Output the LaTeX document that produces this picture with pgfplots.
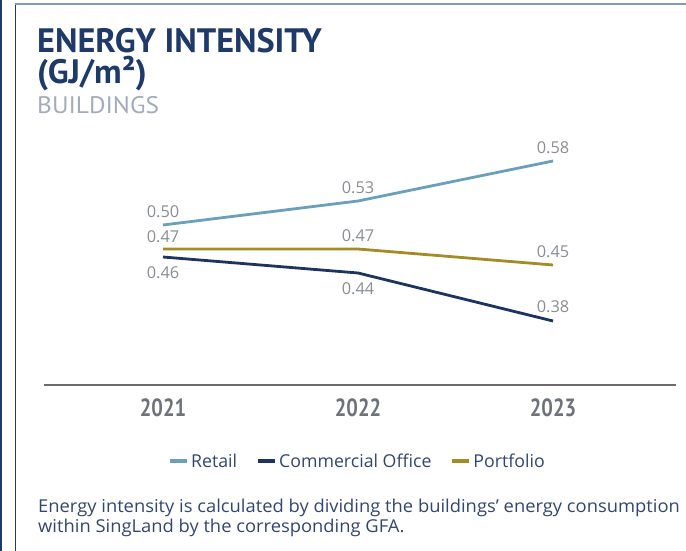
\documentclass[border=0pt]{standalone}
\usepackage{fontspec}
\setmainfont{Open Sans}
\newfontfamily\titlefont{PT Sans}
\usepackage{pgfplots}
\usepackage{pgfplotstable}
\pgfplotsset{compat=1.18}

\definecolor{navy}{HTML}{1F3A68}
\definecolor{retailc}{HTML}{6B9FBA}
\definecolor{officec}{HTML}{1D3461}
\definecolor{portc}{HTML}{A38B28}
\definecolor{lblgrey}{HTML}{8A8D91}
\definecolor{yeargrey}{HTML}{6E737B}
\definecolor{subgrey}{HTML}{A3ABBB}
\definecolor{framec}{HTML}{8A98B0}
\definecolor{txtnavy}{HTML}{34466B}

% x: 0=2021, 1=2022, 2=2023 ; off = label shift in bp
\pgfplotstableread{
x y off
0 0.50 13
1 0.53 13
2 0.58 13
}\retail
\pgfplotstableread{
x y off
0 0.46 -16
1 0.44 -16
2 0.38 14
}\office
\pgfplotstableread{
x y off
0 0.47 12
1 0.47 13
2 0.45 13
}\portfolio

\pgfplotsset{
  vals/.style={
    point meta=y,
    nodes near coords={\pgfmathprintnumber[assume math mode=true,fixed,fixed zerofill,precision=2]{\pgfplotspointmeta}},
    visualization depends on={\thisrow{off} \as \off},
    every node near coord/.append style={anchor=center,yshift=\off*1bp,text=lblgrey,
      font=\fontsize{16.4}{16.4}\selectfont},
  },
}

\begin{document}
\begin{tikzpicture}
\path[use as bounding box] (0bp,0bp) rectangle (686bp,551bp);
% frame
\fill[navy] (0bp,0bp) rectangle (1.6bp,551bp);
\draw[navy,line width=1.3bp] (15.2bp,0bp) -- (15.2bp,547bp);
\draw[framec,line width=1.6bp] (14.6bp,546.7bp) -- (686bp,546.7bp);
% titles
\node[anchor=base west,inner sep=0,text=navy,font=\titlefont\bfseries\fontsize{34}{34}\selectfont]
  at (37bp,498bp) {\scalebox{1.01}[1]{ENERGY INTENSITY}};
\node[anchor=base west,inner sep=0,text=navy,font=\titlefont\bfseries\fontsize{34}{34}\selectfont]
  at (37bp,467bp) {\scalebox{1.01}[1]{(GJ/m²)}};
\node[anchor=base west,inner sep=0,text=subgrey,font=\titlefont\fontsize{24}{24}\selectfont]
  at (37bp,437bp) {\scalebox{1.06}[1]{BUILDINGS}};

\begin{axis}[
  at={(44bp,166bp)},anchor=south west,
  scale only axis,width=632bp,height=256bp,
  xmin=-0.6103,xmax=2.6308,ymin=0.30,ymax=0.62,
  clip=false,
  axis x line=bottom,axis y line=none,
  x axis line style={-,draw=black!58,line width=1.4bp},
  xtick={0,1,2},
  xticklabels={\scalebox{0.82}[1]{2021},\scalebox{0.82}[1]{2022},\scalebox{0.82}[1]{2023}},
  major tick length=0pt,
  xticklabel style={anchor=base,yshift=-32bp,text=yeargrey,
    font=\titlefont\bfseries\fontsize{25}{25}\selectfont},
  ytick=\empty,
  every axis plot/.append style={line width=2.8bp,mark=none},
  legend columns=3,
  legend style={at={(0.496,-0.297)},anchor=center,draw=none,fill=none,
    font=\fontsize{17.8}{17.8}\selectfont,text=txtnavy,
    /tikz/every even column/.append style={column sep=17bp}},
  legend image code/.code={\draw[#1,line width=4bp] (0bp,0bp) -- (17bp,0bp);},
]
\addplot[retailc,vals] table[x=x,y=y] {\retail};
\addlegendentry{Retail}
\addplot[officec,vals] table[x=x,y=y] {\office};
\addlegendentry{Commercial Office}
\addplot[portc,vals] table[x=x,y=y] {\portfolio};
\addlegendentry{Portfolio}
\end{axis}

% note
\node[anchor=base west,inner sep=0,text=txtnavy,font=\fontsize{17.8}{17.8}\selectfont]
  at (38bp,38.5bp) {\scalebox{1.035}[1]{Energy intensity is calculated by dividing the buildings’ energy consumption}};
\node[anchor=base west,inner sep=0,text=txtnavy,font=\fontsize{17.8}{17.8}\selectfont]
  at (38bp,18.5bp) {\scalebox{1.035}[1]{within SingLand by the corresponding GFA.}};
\end{tikzpicture}
\end{document}
